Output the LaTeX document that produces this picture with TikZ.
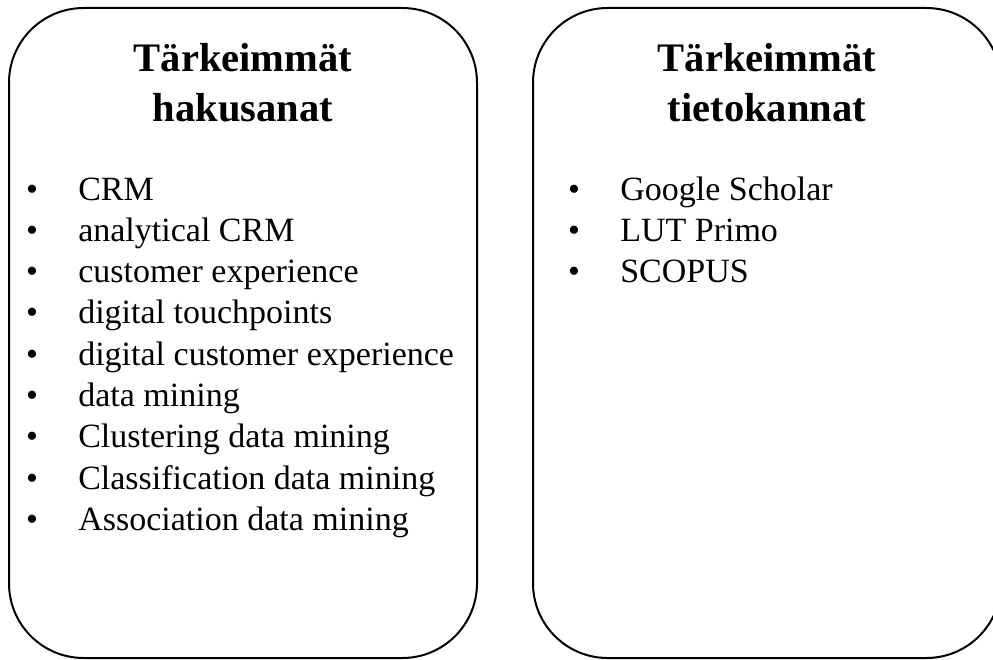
\documentclass[tikz,border=0pt]{standalone}
\usepackage{fontspec}
\setmainfont{Liberation Serif}
\usepackage{tikz}
\usetikzlibrary{positioning}

\begin{document}
\begin{tikzpicture}[
  x=0.75pt, y=-0.75pt,
  frame/.style={draw, line width=1.5pt, rounded corners=56pt},
  ttl/.style={font=\fontsize{30.4}{32.3}\selectfont\bfseries, align=center, inner sep=0pt, anchor=base},
  bul/.style={font=\fontsize{25.5}{30}\selectfont, inner sep=0pt, anchor=base},
  itm/.style={font=\fontsize{25.5}{30}\selectfont, inner sep=0pt, anchor=base west}
]
  \useasboundingbox (0,0) rectangle (993,660);

  % the two frames
  \draw[frame] (9,8) rectangle (477,658);
  \draw[frame] (533,8) rectangle (1001,658);

  % headings
  \node[ttl] (hakuA) at (243,72) {Tärkeimmät};
  \node[ttl] (hakuB) at (243,122) {hakusanat};
  \node[ttl] (tietoA) at (767,72) {Tärkeimmät};
  \node[ttl] (tietoB) at (767,122) {tietokannat};

  % search words
  \foreach \w [count=\i] in {CRM, analytical CRM, customer experience, digital touchpoints,
      digital customer experience, data mining, Clustering data mining,
      Classification data mining, Association data mining} {
    \node[bul] (hb\i) at (32, 200+41.3*\i-41.3) {•};
    \node[itm] (hw\i) at (78, 200+41.3*\i-41.3) {\w};
  }

  % databases
  \foreach \w [count=\i] in {Google Scholar, LUT Primo, SCOPUS} {
    \node[bul] (tb\i) at (574, 200+41.3*\i-41.3) {•};
    \node[itm] (tw\i) at (620, 200+41.3*\i-41.3) {\w};
  }
\end{tikzpicture}
\end{document}
